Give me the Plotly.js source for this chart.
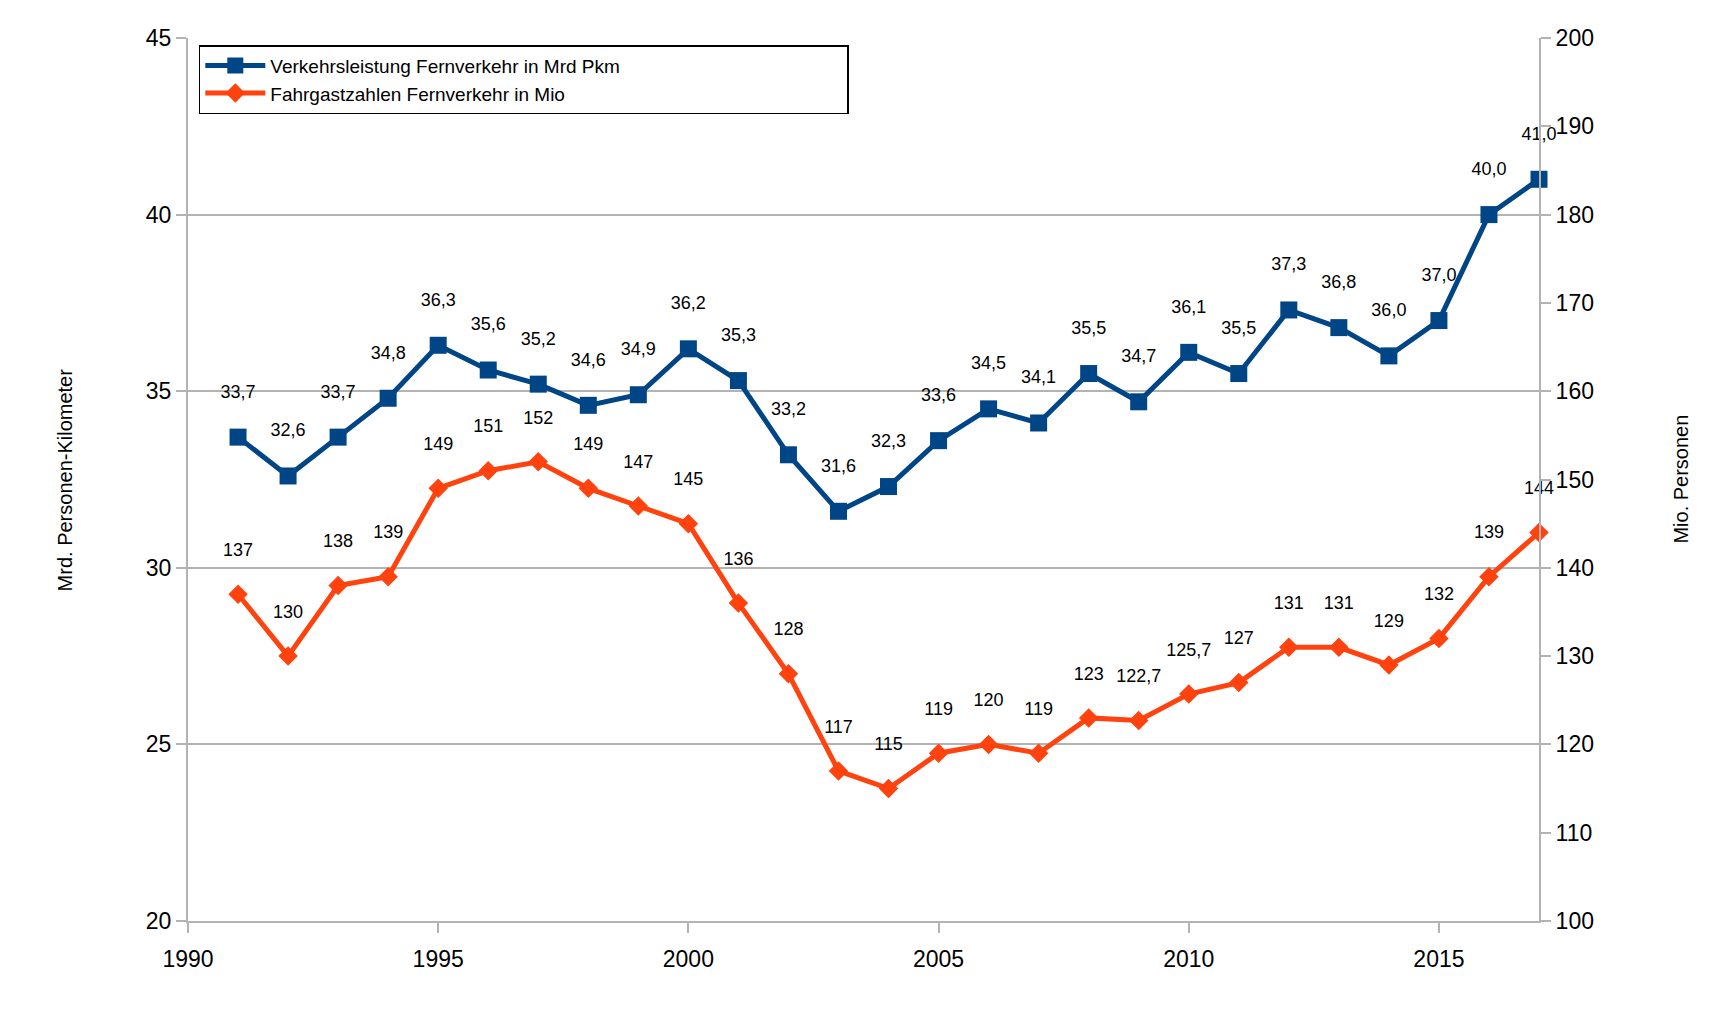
<!DOCTYPE html>
<html>
<head>
<meta charset="utf-8">
<script src="https://cdn.plot.ly/plotly-3.0.1.min.js"></script>
<style>body{margin:0;background:#fff}#chart{width:1723px;height:1024px}</style>
</head>
<body>
<div id="chart"></div>
<script>
const jahre = [1991,1992,1993,1994,1995,1996,1997,1998,1999,2000,2001,2002,2003,2004,2005,2006,2007,2008,2009,2010,2011,2012,2013,2014,2015,2016,2017];
const verkehrsleistung = [33.7,32.6,33.7,34.8,36.3,35.6,35.2,34.6,34.9,36.2,35.3,33.2,31.6,32.3,33.6,34.5,34.1,35.5,34.7,36.1,35.5,37.3,36.8,36.0,37.0,40.0,41.0];
const fahrgastzahlen = [137,130,138,139,149,151,152,149,147,145,136,128,117,115,119,120,119,123,122.7,125.7,127,131,131,129,132,139,144];

const fmt = v => String(v).replace('.', ',');
const font = { family: 'Liberation Sans, Arial, sans-serif', color: '#000' };
const pad = '\u00a0'.repeat(42);

const traces = [
  {
    x: jahre, y: verkehrsleistung, name: 'Verkehrsleistung Fernverkehr in Mrd Pkm' + pad,
    type: 'scatter', mode: 'lines+markers+text', cliponaxis: false,
    line: { color: '#004586', width: 5 },
    marker: { symbol: 'square', size: 17, color: '#004586' },
    text: verkehrsleistung.map(v => v.toFixed(1).replace('.', ',') + '<br> '),
    textposition: 'top center', textfont: { ...font, size: 18 }
  },
  {
    x: jahre, y: fahrgastzahlen, name: 'Fahrgastzahlen Fernverkehr in Mio', yaxis: 'y2',
    type: 'scatter', mode: 'lines+markers+text', cliponaxis: false,
    line: { color: '#ff420e', width: 5 },
    marker: { symbol: 'diamond', size: 15, color: '#ff420e' },
    text: fahrgastzahlen.map(v => fmt(v) + '<br> '),
    textposition: 'top center', textfont: { ...font, size: 18 }
  }
];

const axisCommon = {
  showline: true, linecolor: '#b3b3b3', linewidth: 2,
  ticks: 'outside', tickcolor: '#b3b3b3', ticklen: 10, tickwidth: 2,
  tickfont: { ...font, size: 23 }, zeroline: false
};

const layout = {
  width: 1723, height: 1024,
  margin: { l: 188, r: 184, t: 38, b: 103 },
  paper_bgcolor: '#fff', plot_bgcolor: '#fff',
  showlegend: true,
  legend: {
    x: 0.008, y: 0.992, xanchor: 'left', yanchor: 'top',
    bordercolor: '#000', borderwidth: 1.5, bgcolor: '#fff',
    font: { ...font, size: 19 }, itemwidth: 60, tracegroupgap: 8
  },
  xaxis: { ...axisCommon, range: [1990, 2017], dtick: 5, tick0: 1990, showgrid: false, ticklabelstandoff: 6 },
  yaxis: { ...axisCommon, range: [20, 45], dtick: 5, showgrid: true, gridcolor: '#b3b3b3', gridwidth: 2 },
  yaxis2: { ...axisCommon, range: [100, 200], dtick: 10, overlaying: 'y', side: 'right', showgrid: false },
  annotations: [
    { text: 'Mrd. Personen-Kilometer', xref: 'paper', yref: 'paper', x: -0.1, y: 0.5, xanchor: 'center', yanchor: 'middle',
      textangle: -90, showarrow: false, font: { ...font, size: 20 }, xshift: 12 },
    { text: 'Mio. Personen', xref: 'paper', yref: 'paper', x: 1.1, y: 0.5, xanchor: 'center', yanchor: 'middle',
      textangle: -90, showarrow: false, font: { ...font, size: 20 }, xshift: 6 }
  ]
};

Plotly.newPlot('chart', traces, layout, { displayModeBar: false });
</script>
</body>
</html>
